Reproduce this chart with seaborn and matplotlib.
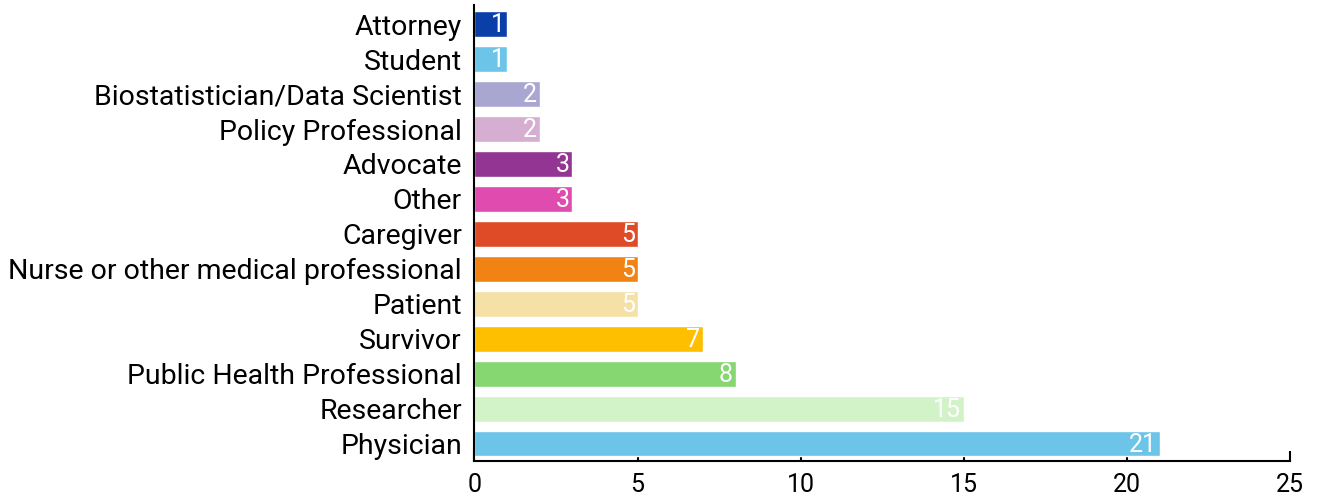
import matplotlib
matplotlib.use("Agg")
import matplotlib.pyplot as plt
import seaborn as sns
import pandas as pd

categories = ["Attorney", "Student", "Biostatistician/Data Scientist", "Policy Professional",
              "Advocate", "Other", "Caregiver", "Nurse or other medical professional",
              "Patient", "Survivor", "Public Health Professional", "Researcher", "Physician"]
values = [1, 1, 2, 2, 3, 3, 5, 5, 5, 7, 8, 15, 21]
colors = ["#0a3fa8", "#6cc5e8", "#a9a6d1", "#d6aed2", "#933592", "#e04bb0", "#e04b27",
          "#f08314", "#f5e0a6", "#fdbf00", "#86d672", "#d2f3c8", "#6cc5e8"]
x_ticks = [0, 5, 10, 15, 20, 25]

sns.set_theme(style="white")
plt.rcParams['font.family'] = ['Roboto', 'DejaVu Sans']

df = pd.DataFrame({"cat": categories, "val": values})
fig = plt.figure(figsize=(13.18, 5), dpi=100)
ax = fig.add_axes([0.36, 0.078, 0.619, 0.912])
sns.barplot(data=df, y="cat", x="val", hue="cat", palette=dict(zip(categories, colors)),
            order=categories, legend=False, width=0.74, ax=ax, saturation=1)

for i, v in enumerate(values):
    ax.text(v - 0.08, i + 0.03, str(v), color="white", ha="right", va="center", fontsize=18)

ax.set_xlim(0, 25)
ax.set_ylim(len(categories) - 0.5, -0.55)
ax.set_xticks(x_ticks)
ax.set_xlabel("")
ax.set_ylabel("")
for s in ["top", "right"]:
    ax.spines[s].set_visible(False)
ax.spines["left"].set_color("black")
ax.spines["bottom"].set_color("black")
ax.spines["left"].set_linewidth(1.5)
ax.spines["bottom"].set_linewidth(1.5)
ax.tick_params(axis="x", bottom=True, direction="in", length=7, width=1.5, color="black",
               pad=9, labelsize=18, labelcolor="black")
ax.tick_params(axis="y", left=False, length=0, pad=9, labelsize=20.5, labelcolor="black")
ax.grid(False)

fig.savefig("out.png", dpi=100)
